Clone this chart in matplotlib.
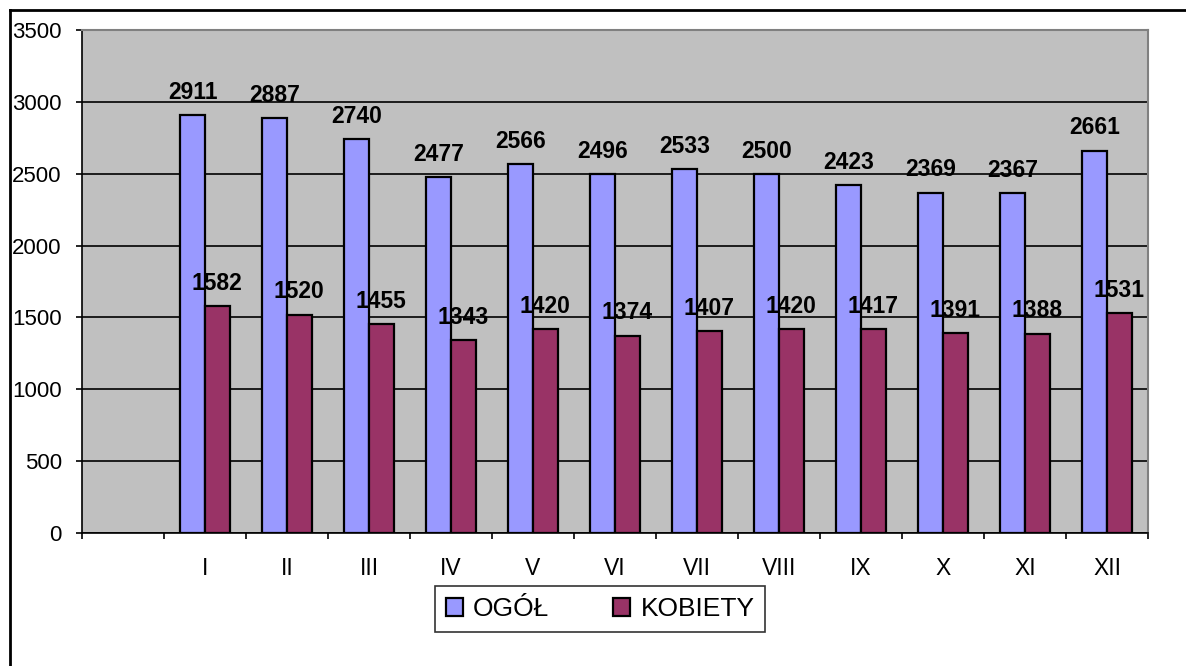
import numpy as np
import matplotlib.pyplot as plt
from matplotlib.lines import Line2D

# -- Data
months  = ["", "I", "II", "III", "IV", "V", "VI", "VII", "VIII", "IX", "X", "XI", "XII"]
ogol    = [np.nan, 2911, 2887, 2740, 2477, 2566, 2496, 2533, 2500, 2423, 2369, 2367, 2661]
kobiety = [np.nan, 1582, 1520, 1455, 1343, 1420, 1374, 1407, 1420, 1417, 1391, 1388, 1531]

plt.rcParams['font.family'] = ['Liberation Sans', 'DejaVu Sans']

fig = plt.figure(figsize=(11.86, 6.66), dpi=100)
ax  = fig.add_axes([82/1186, 1-533/666, (1148-82)/1186, (533-30)/666])
ax.set_facecolor("#C0C0C0")

x = np.arange(len(months))
w = 0.30
b1 = ax.bar(x - w/2, ogol, w, color="#9999FF", edgecolor="black", linewidth=1.6,
            label="OGÓŁ", zorder=3)
b2 = ax.bar(x + w/2, kobiety, w, color="#993366", edgecolor="black", linewidth=1.6,
            label="KOBIETY", zorder=3)

for xi, v in zip(x, ogol):
    if not np.isnan(v):
        ax.annotate(str(v), (xi - w/2, v), xytext=(0, 8), textcoords="offset points",
                    ha="center", va="bottom", fontsize=16.5, fontweight="bold")
for xi, v in zip(x, kobiety):
    if not np.isnan(v):
        ax.annotate(str(v), (xi + w/2, v), xytext=(0, 8), textcoords="offset points",
                    ha="center", va="bottom", fontsize=16.5, fontweight="bold")

# -- Axes
ax.set_xlim(-0.5, len(months) - 0.5)
ax.set_ylim(0, 3500)
ax.set_yticks(np.arange(0, 3501, 500))
ax.yaxis.grid(True, color="black", linewidth=1.2, zorder=1)
ax.set_axisbelow(True)
ax.tick_params(axis="y", labelsize=16, length=4.5, width=1.2, direction="out", pad=10)

ax.set_xticks(x)
ax.set_xticklabels(months)
ax.tick_params(axis="x", which="major", length=0, labelsize=16.5, pad=17)
ax.set_xticks(np.arange(-0.5, len(months)), minor=True)
ax.tick_params(axis="x", which="minor", length=4.5, width=1.2, direction="out")

for s in ["left", "bottom"]:
    ax.spines[s].set_color("black")
    ax.spines[s].set_linewidth(1.2)
for s in ["top", "right"]:
    ax.spines[s].set_color("#808080")
    ax.spines[s].set_linewidth(1.5)

leg = fig.legend(handles=[b1, b2], loc="center", bbox_to_anchor=(600/1186, 1-609/666),
                 ncol=2, fontsize=19, frameon=True, fancybox=False, handlelength=0.65,
                 handleheight=0.65, columnspacing=2.4, handletextpad=0.4,
                 borderpad=0.4, borderaxespad=0)
leg.get_frame().set_edgecolor("black")
leg.get_frame().set_linewidth(1.2)

# -- Outer border
fig.add_artist(Line2D([10/1186, 10/1186], [0, 1-10/666], color="black", linewidth=2,
                      transform=fig.transFigure))
fig.add_artist(Line2D([10/1186, 1], [1-10/666, 1-10/666], color="black", linewidth=2,
                      transform=fig.transFigure))

fig.savefig("out.png", dpi=100)
